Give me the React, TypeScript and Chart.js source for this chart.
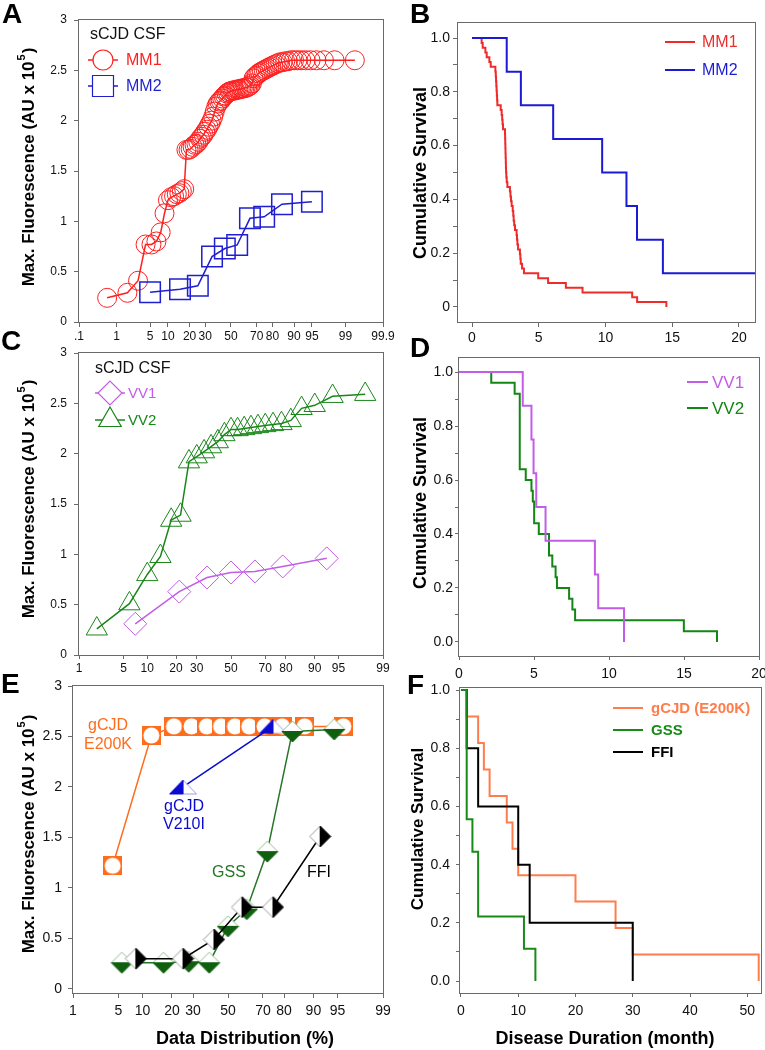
import React, { useEffect, useRef } from 'react';
import { Chart, Scale, registerables } from 'chart.js';

Chart.register(...registerables);
const FONT = 'Arial, "Liberation Sans", Helvetica, sans-serif';
Chart.defaults.font.family = FONT;

// ================= DATA =================
// Panel A – sCJD CSF (probability plot)
const MM1_PCT = [
  0.59, 1.76, 2.94, 4.12, 5.29, 6.47, 7.65, 8.82, 10.0, 11.18,
  12.35, 13.53, 14.71, 15.88, 17.06, 18.24, 19.41, 20.59, 21.76, 22.94,
  24.12, 25.29, 26.47, 27.65, 28.82, 30.0, 31.18, 32.35, 33.53, 34.71,
  35.88, 37.06, 38.24, 39.41, 40.59, 41.76, 42.94, 44.12, 45.29, 46.47,
  47.65, 48.82, 50.0, 51.18, 52.35, 53.53, 54.71, 55.88, 57.06, 58.24,
  59.41, 60.59, 61.76, 62.94, 64.12, 65.29, 66.47, 67.65, 68.82, 70.0,
  71.18, 72.35, 73.53, 74.71, 75.88, 77.06, 78.24, 79.41, 80.59, 81.76,
  82.94, 84.12, 85.29, 86.47, 87.65, 88.82, 90.0, 91.18, 92.35, 93.53,
  94.71, 95.88, 97.06, 98.24, 99.41,
];
const MM1_VAL = [
  0.24, 0.29, 0.41, 0.77, 0.77, 0.80, 0.89, 1.08, 1.21, 1.24,
  1.25, 1.27, 1.28, 1.30, 1.32, 1.71, 1.71, 1.72, 1.74, 1.76,
  1.77, 1.79, 1.82, 1.84, 1.86, 1.89, 1.91, 1.94, 1.97, 2.00,
  2.04, 2.09, 2.14, 2.17, 2.19, 2.20, 2.22, 2.24, 2.25, 2.27,
  2.28, 2.29, 2.29, 2.30, 2.30, 2.30, 2.31, 2.31, 2.31, 2.32,
  2.32, 2.32, 2.33, 2.33, 2.34, 2.35, 2.37, 2.42, 2.44, 2.45,
  2.47, 2.48, 2.49, 2.50, 2.51, 2.52, 2.53, 2.54, 2.55, 2.56,
  2.57, 2.58, 2.58, 2.59, 2.59, 2.60, 2.60, 2.60, 2.60, 2.60,
  2.60, 2.60, 2.60, 2.60, 2.60,
];
const MM2_PCT = [5, 15, 25, 35, 45, 55, 65, 75, 85, 95];
const MM2_VAL = [0.295, 0.325, 0.36, 0.65, 0.73, 0.765, 1.03, 1.045, 1.17, 1.195];

// Panel B – survival MM1 / MM2
const KM_MM1_T = [0, 0.72, 0.8, 1.0, 1.1, 1.3, 1.4, 1.75, 1.78, 1.8, 1.82, 1.84, 1.86, 1.88, 1.9, 2.15, 2.22, 2.26, 2.29, 2.32, 2.47, 2.48, 2.49, 2.5, 2.51, 2.52, 2.53, 2.54, 2.55, 2.57, 2.6, 2.65, 2.84, 2.88, 2.92, 2.97, 3.05, 3.09, 3.12, 3.16, 3.22, 3.34, 3.37, 3.4, 3.45, 3.59, 3.62, 3.65, 3.75, 3.89, 4.96, 5.7, 7.03, 8.28, 12.0, 12.37, 14.56];
const KM_MM1_S = [1, 0.982, 0.964, 0.946, 0.929, 0.911, 0.893, 0.875, 0.857, 0.839, 0.821, 0.804, 0.786, 0.768, 0.75, 0.732, 0.714, 0.696, 0.679, 0.661, 0.643, 0.625, 0.607, 0.589, 0.571, 0.554, 0.536, 0.518, 0.5, 0.482, 0.464, 0.446, 0.429, 0.411, 0.393, 0.375, 0.357, 0.339, 0.321, 0.304, 0.286, 0.268, 0.25, 0.232, 0.214, 0.196, 0.179, 0.161, 0.143, 0.125, 0.107, 0.089, 0.071, 0.054, 0.036, 0.018, 0];
const KM_MM2_T = [0, 2.6, 3.66, 6.08, 9.75, 11.57, 12.36, 14.3, 21.2];
const KM_MM2_S = [1, 0.875, 0.75, 0.625, 0.5, 0.375, 0.25, 0.125, 0.125];

// Panel C – VV1 / VV2
const VV1_PCT = [7.14, 21.43, 35.71, 50, 64.29, 78.57, 92.86];
const VV1_VAL = [0.31, 0.63, 0.77, 0.82, 0.83, 0.88, 0.96];
const VV2_PCT = [2, 6, 10, 14, 18, 22, 26, 30, 34, 38, 42, 46, 50, 54, 58, 62, 66, 70, 74, 78, 82, 86, 90, 94, 98];
const VV2_VAL = [0.26, 0.51, 0.80, 0.98, 1.34, 1.39, 1.92, 1.97, 2.02, 2.07, 2.12, 2.19, 2.24, 2.24, 2.25, 2.26, 2.27, 2.28, 2.29, 2.30, 2.33, 2.45, 2.48, 2.57, 2.59];

// Panel D – survival VV1 / VV2
const KM_VV1_T = [0, 4.25, 4.83, 4.97, 5.15, 5.77, 9.06, 9.28, 11.0];
const KM_VV1_S = [1, 0.875, 0.75, 0.625, 0.5, 0.375, 0.25, 0.125, 0];
const KM_VV2_T = [0, 2.15, 3.71, 4.05, 4.45, 4.83, 4.92, 5.01, 5.32, 6.0, 6.22, 6.44, 6.53, 7.34, 7.56, 7.74, 14.99, 17.2];
const KM_VV2_S = [1, 0.96, 0.92, 0.64, 0.6, 0.56, 0.52, 0.44, 0.4, 0.32, 0.28, 0.24, 0.2, 0.16, 0.12, 0.08, 0.04, 0];

// Panel E – genetic forms
const E200K_PCT = [4.17, 12.5, 20.83, 29.17, 37.5, 45.83, 54.17, 62.5, 70.83, 79.17, 87.5, 95.83];
const E200K_VAL = [1.22, 2.51, 2.6, 2.6, 2.6, 2.6, 2.6, 2.6, 2.6, 2.6, 2.6, 2.6];
const V210I_PCT = [25, 75];
const V210I_VAL = [2.0, 2.6];
const GSS_PCT = [5.56, 16.67, 27.78, 38.89, 50, 61.11, 72.22, 83.33, 94.44];
const GSS_VAL = [0.26, 0.26, 0.27, 0.26, 0.62, 0.79, 1.36, 2.55, 2.57];
const FFI_PCT = [8.33, 25, 41.67, 58.33, 75, 91.67];
const FFI_VAL = [0.30, 0.30, 0.49, 0.81, 0.81, 1.51];

// Panel F – survival genetic forms
const KM_E200K_T = [0, 1, 3, 4, 5, 8, 9, 10, 20, 27, 30, 52];
const KM_E200K_S = [1, 0.909, 0.818, 0.727, 0.636, 0.545, 0.455, 0.364, 0.273, 0.182, 0.091, 0];
const KM_GSS_T = [0, 1, 2, 3, 11, 13];
const KM_GSS_S = [1, 0.556, 0.444, 0.222, 0.111, 0];
const KM_FFI_T = [0, 1, 3, 10, 12, 30];
const KM_FFI_S = [1, 0.8, 0.6, 0.4, 0.2, 0];

// Ticks
const PROB_TICKS_A = [0.1, 1, 5, 10, 20, 30, 50, 70, 80, 90, 95, 99, 99.9];
const PROB_LABELS_A = ['.1', '1', '5', '10', '20', '30', '50', '70', '80', '90', '95', '99', '99.9'];
const PROB_TICKS_CE = [1, 5, 10, 20, 30, 50, 70, 80, 90, 95, 99];
const PROB_LABELS_CE = ['1', '5', '10', '20', '30', '50', '70', '80', '90', '95', '99'];
const FLUOR_TICKS = [0, 0.5, 1, 1.5, 2, 2.5, 3];
const FLUOR_LABELS = ['0', '0.5', '1', '1.5', '2', '2.5', '3'];
const SURV_TICKS = [0, 0.1, 0.2, 0.3, 0.4, 0.5, 0.6, 0.7, 0.8, 0.9, 1.0];
const SURV_LABELS_B = ['0', '', '0.2', '', '0.4', '', '0.6', '', '0.8', '', '1.0'];
const SURV_LABELS_DF = ['0.0', '', '0.2', '', '0.4', '', '0.6', '', '0.8', '', '1.0'];
const DUR_TICKS_BD = [0, 5, 10, 15, 20];
const DUR_TICKS_F = [0, 10, 20, 30, 40, 50];

// Colours
const GRAY = '#6a6a6a';
const RED_A = '#ff1f1f';
const BLUE_A = '#1f1fd0';
const RED_B = '#ee2b2b';
const BLUE_B = '#1b1bd6';
const PURPLE = '#c35ce6';
const GREEN_C = '#1a861a';
const GREEN_D = '#138613';
const E_ORANGE = '#ff6d1a';
const E_BLUE = '#0a0ad2';
const GSS_DARK = '#0f5f0f';
const GSS_LINE = '#257525';
const F_ORANGE = '#ff7d4d';
const F_GREEN = '#178a17';

// ================= PROBIT SCALE =================
function probit(p: number): number {
  const a = [-3.969683028665376e1, 2.209460984245205e2, -2.759285104469687e2, 1.38357751867269e2, -3.066479806614716e1, 2.506628277459239];
  const b = [-5.447609879822406e1, 1.615858368580409e2, -1.556989798598866e2, 6.680131188771972e1, -1.328068155288572e1];
  const c = [-7.784894002430293e-3, -3.223964580411365e-1, -2.400758277161838, -2.549671010862449, 4.374664141464968, 2.938163982698783];
  const d = [7.784695709041462e-3, 3.224671290700398e-1, 2.445134137142996, 3.754408661907416];
  const pl = 0.02425;
  if (p < pl) {
    const q = Math.sqrt(-2 * Math.log(p));
    return (((((c[0] * q + c[1]) * q + c[2]) * q + c[3]) * q + c[4]) * q + c[5]) / ((((d[0] * q + d[1]) * q + d[2]) * q + d[3]) * q + 1);
  }
  if (p <= 1 - pl) {
    const q = p - 0.5;
    const r = q * q;
    return ((((((a[0] * r + a[1]) * r + a[2]) * r + a[3]) * r + a[4]) * r + a[5]) * q) / (((((b[0] * r + b[1]) * r + b[2]) * r + b[3]) * r + b[4]) * r + 1);
  }
  const q = Math.sqrt(-2 * Math.log(1 - p));
  return -(((((c[0] * q + c[1]) * q + c[2]) * q + c[3]) * q + c[4]) * q + c[5]) / ((((d[0] * q + d[1]) * q + d[2]) * q + d[3]) * q + 1);
}

class ProbitScale extends Scale {
  static id = 'probit';
  static defaults = {};
  determineDataLimits() {
    const o: any = this.options;
    this.min = o.min;
    this.max = o.max;
  }
  buildTicks() {
    return [];
  }
  getLabelForValue(v: number) {
    return String(v);
  }
  getPixelForValue(v: number) {
    const z0 = probit(this.min / 100);
    const z1 = probit(this.max / 100);
    const p = Math.min(99.9999, Math.max(0.0001, v)) / 100;
    return this.getPixelForDecimal((probit(p) - z0) / (z1 - z0));
  }
  getPixelForTick(i: number) {
    return this.getPixelForValue((this.ticks[i] as any).value);
  }
  getValueForPixel(px: number) {
    return this.min + this.getDecimalForPixel(px) * (this.max - this.min);
  }
}
Chart.register(ProbitScale as any);

// ================= HELPERS =================
const zip = (xs: number[], ys: number[]) => xs.map((x, i) => ({ x, y: ys[i] }));

type Geo = { left: number; top: number; w: number; h: number; L: number; T: number; R: number; B: number };
const GA: Geo = { left: 0, top: 0, w: 400, h: 345, L: 79, T: 20, R: 383, B: 322 };
const GB: Geo = { left: 390, top: 0, w: 380, h: 345, L: 458, T: 23, R: 755, B: 322 };
const GC: Geo = { left: 0, top: 325, w: 400, h: 355, L: 79, T: 353, R: 383, B: 655 };
const GD: Geo = { left: 390, top: 325, w: 380, h: 365, L: 459, T: 358, R: 759, B: 656 };
const GE: Geo = { left: 0, top: 665, w: 400, h: 385, L: 73, T: 686, R: 383, B: 993 };
const GF: Geo = { left: 390, top: 665, w: 380, h: 385, L: 460, T: 688, R: 761, B: 993 };

function axis(size: number, tickLen: number, pad: number, extra: any) {
  return {
    grid: { display: true, drawOnChartArea: false, drawTicks: true, tickLength: tickLen, color: GRAY, lineWidth: 1 },
    border: { display: false },
    ...extra,
    ticks: { autoSkip: false, maxRotation: 0, minRotation: 0, padding: pad, color: '#111', font: { size, family: FONT }, ...(extra.ticks || {}) },
  };
}

const zeroPad = (s: any) => {
  s.paddingLeft = 0;
  s.paddingRight = 0;
  s.paddingTop = 0;
  s.paddingBottom = 0;
};

function options(g: Geo, x: any, y: any) {
  const L = g.L - g.left;
  const T = g.T - g.top;
  const R = g.R - g.left;
  const B = g.B - g.top;
  x.afterFit = (s: any) => {
    s.height = g.h - B;
    zeroPad(s);
  };
  y.afterFit = (s: any) => {
    s.width = L;
    zeroPad(s);
  };
  return {
    animation: false,
    responsive: false,
    maintainAspectRatio: false,
    devicePixelRatio: 1,
    events: [],
    layout: { padding: { left: 0, top: T, right: g.w - R, bottom: 0 } },
    plugins: { legend: { display: false }, tooltip: { enabled: false } },
    scales: { x, y },
  };
}

const framePlugin = {
  id: 'frame',
  beforeDatasetsDraw(chart: any) {
    const { ctx, chartArea: a } = chart;
    ctx.save();
    ctx.strokeStyle = GRAY;
    ctx.lineWidth = 1;
    const l = Math.round(a.left), t = Math.round(a.top), r = Math.round(a.right), b = Math.round(a.bottom);
    ctx.strokeRect(l - 0.5, t - 0.5, r - l + 1, b - t + 1);
    ctx.restore();
  },
};

function overlay(g: Geo, draw: (ctx: CanvasRenderingContext2D) => void) {
  return {
    id: 'overlay',
    afterDraw(chart: any) {
      const ctx = chart.ctx as CanvasRenderingContext2D;
      ctx.save();
      ctx.translate(-g.left, -g.top);
      draw(ctx);
      ctx.restore();
    },
  };
}

function text(ctx: CanvasRenderingContext2D, s: string, x: number, y: number, size: number, color = '#000', bold = false, align: CanvasTextAlign = 'left') {
  ctx.font = `${bold ? 'bold ' : ''}${size}px ${FONT}`;
  ctx.fillStyle = color;
  ctx.textAlign = align;
  ctx.textBaseline = 'middle';
  ctx.fillText(s, x, y);
}
function letter(ctx: CanvasRenderingContext2D, s: string, x: number, yBase: number) {
  ctx.font = `bold 28px ${FONT}`;
  ctx.fillStyle = '#000';
  ctx.textAlign = 'left';
  ctx.textBaseline = 'alphabetic';
  ctx.fillText(s, x, yBase);
}
function vTitle(ctx: CanvasRenderingContext2D, s: string, cx: number, cy: number, size: number) {
  ctx.save();
  ctx.translate(cx, cy);
  ctx.rotate(-Math.PI / 2);
  text(ctx, s, 0, 0, size, '#000', true, 'center');
  ctx.restore();
}
function vTitleSup(ctx: CanvasRenderingContext2D, main: string, sup: string, tail: string, cx: number, cy: number, size: number) {
  ctx.save();
  ctx.translate(cx, cy);
  ctx.rotate(-Math.PI / 2);
  const f = `bold ${size}px ${FONT}`;
  const fs = `bold ${Math.round(size * 0.65)}px ${FONT}`;
  ctx.font = f;
  const w1 = ctx.measureText(main).width;
  const w3 = ctx.measureText(tail).width;
  ctx.font = fs;
  const w2 = ctx.measureText(sup).width;
  let x = -(w1 + w2 + w3) / 2;
  ctx.textBaseline = 'middle';
  ctx.textAlign = 'left';
  ctx.fillStyle = '#000';
  ctx.font = f;
  ctx.fillText(main, x, 0);
  x += w1;
  ctx.font = fs;
  ctx.fillText(sup, x + 1, -size * 0.4);
  x += w2 + 2;
  ctx.font = f;
  ctx.fillText(tail, x, 0);
  ctx.restore();
}
function hline(ctx: CanvasRenderingContext2D, x1: number, x2: number, y: number, color: string, w: number) {
  ctx.beginPath();
  ctx.moveTo(x1, y);
  ctx.lineTo(x2, y);
  ctx.strokeStyle = color;
  ctx.lineWidth = w;
  ctx.stroke();
}
function marker(ctx: CanvasRenderingContext2D, kind: string, x: number, y: number, r: number, color: string) {
  ctx.beginPath();
  if (kind === 'circle') ctx.arc(x, y, r, 0, Math.PI * 2);
  else if (kind === 'rect') ctx.rect(x - r, y - r, 2 * r, 2 * r);
  else if (kind === 'diamond') {
    ctx.moveTo(x - r, y);
    ctx.lineTo(x, y - r);
    ctx.lineTo(x + r, y);
    ctx.lineTo(x, y + r);
    ctx.closePath();
  } else {
    ctx.moveTo(x, y - r);
    ctx.lineTo(x + 0.866 * r, y + r / 2);
    ctx.lineTo(x - 0.866 * r, y + r / 2);
    ctx.closePath();
  }
  ctx.fillStyle = '#fff';
  ctx.fill();
  ctx.strokeStyle = color;
  ctx.lineWidth = 1.2;
  ctx.stroke();
}

function mk(w: number, h: number, f: (g: CanvasRenderingContext2D) => void) {
  const c = document.createElement('canvas');
  c.width = w;
  c.height = h;
  f(c.getContext('2d') as CanvasRenderingContext2D);
  return c;
}
function poly(g: CanvasRenderingContext2D, pts: number[][], fill: string, stroke?: string) {
  g.beginPath();
  g.moveTo(pts[0][0], pts[0][1]);
  for (let i = 1; i < pts.length; i++) g.lineTo(pts[i][0], pts[i][1]);
  g.closePath();
  g.fillStyle = fill;
  g.fill();
  if (stroke) {
    g.strokeStyle = stroke;
    g.lineWidth = 1;
    g.stroke();
  }
}
function e200kMarker() {
  return mk(19, 19, (g) => {
    g.fillStyle = E_ORANGE;
    g.fillRect(0, 0, 19, 19);
    g.fillStyle = '#fff';
    g.beginPath();
    g.arc(9.5, 9.5, 8, 0, Math.PI * 2);
    g.fill();
  });
}
function halfDiamond(dark: string, edge: string, vertical: boolean) {
  return mk(23, 23, (g) => {
    const c = 11.5, r = 10.5;
    const L = [c - r, c], T = [c, c - r], R = [c + r, c], B = [c, c + r];
    if (!vertical) {
      poly(g, [L, T, R], '#fff', edge);
      poly(g, [L, B, R], dark, dark);
    } else {
      poly(g, [T, L, B], '#fff', edge);
      poly(g, [T, R, B], dark, dark);
    }
  });
}
function v210Marker() {
  return mk(29, 16, (g) => {
    const apex = [14.5, 1], bl = [1, 15], br = [28, 15], mid = [14.5, 15];
    poly(g, [apex, mid, br], '#fff', '#9a9ae8');
    poly(g, [apex, bl, mid], E_BLUE, E_BLUE);
  });
}

function probLine(data: any, color: string, style: any, radius: number, order: number, extra: any = {}) {
  return {
    data,
    borderColor: color,
    borderWidth: 1.5,
    tension: 0,
    pointStyle: style,
    pointRadius: radius,
    pointBorderColor: color,
    pointBackgroundColor: 'rgba(0,0,0,0)',
    pointBorderWidth: 1,
    order,
    ...extra,
  };
}
function kmLine(T: number[], S: number[], color: string, order: number) {
  return { data: zip(T, S), borderColor: color, borderWidth: 2, stepped: 'before', pointRadius: 0, tension: 0, order, fill: false };
}

const fluorY = (size: number, tl: number, pad: number, min: number) =>
  axis(size, tl, pad, {
    type: 'linear', min, max: 3,
    afterBuildTicks: (s: any) => { s.ticks = FLUOR_TICKS.map((v) => ({ value: v })); },
    ticks: { callback: (_v: any, i: number) => FLUOR_LABELS[i] },
  });
const probX = (size: number, tl: number, pad: number, min: number, max: number, ticks: number[], labels: string[]) =>
  axis(size, tl, pad, {
    type: 'probit', min, max,
    afterBuildTicks: (s: any) => { s.ticks = ticks.map((v) => ({ value: v })); },
    ticks: { callback: (_v: any, i: number) => labels[i] },
  });
const survY = (size: number, tl: number, pad: number, min: number, max: number, labels: string[]) =>
  axis(size, tl, pad, {
    type: 'linear', min, max,
    afterBuildTicks: (s: any) => { s.ticks = SURV_TICKS.map((v) => ({ value: v })); },
    ticks: { callback: (_v: any, i: number) => labels[i] },
  });
const durX = (size: number, tl: number, pad: number, min: number, max: number, ticks: number[]) =>
  axis(size, tl, pad, {
    type: 'linear', min, max,
    afterBuildTicks: (s: any) => { s.ticks = ticks.map((v) => ({ value: v })); },
    ticks: { callback: (v: any) => String(v) },
  });

// ================= PANELS =================
const panelA = () => ({
  type: 'line',
  data: {
    datasets: [
      probLine(zip(MM2_PCT, MM2_VAL), BLUE_A, 'rect', 14.5, 1, { pointBorderWidth: 1.5 }),
      probLine(zip(MM1_PCT, MM1_VAL), RED_A, 'circle', 9.5, 2),
    ],
  },
  options: options(GA, probX(12, 5, 2, 0.1, 99.9, PROB_TICKS_A, PROB_LABELS_A), fluorY(12, 5, 7, 0)),
  plugins: [
    framePlugin,
    overlay(GA, (ctx) => {
      letter(ctx, 'A', 2, 23);
      vTitleSup(ctx, 'Max. Fluorescence (AU x 10', '5', ')', 29, 168, 17);
      text(ctx, 'sCJD CSF', 90, 35, 16, '#111');
      hline(ctx, 88, 118, 60, RED_A, 1.5);
      marker(ctx, 'circle', 103, 60, 10, RED_A);
      text(ctx, 'MM1', 126, 61, 16, RED_A);
      hline(ctx, 88, 118, 86, BLUE_A, 1.5);
      marker(ctx, 'rect', 103, 86, 10.5, BLUE_A);
      text(ctx, 'MM2', 126, 87, 16, BLUE_A);
    }),
  ],
});

const panelB = () => ({
  type: 'line',
  data: { datasets: [kmLine(KM_MM2_T, KM_MM2_S, BLUE_B, 1), kmLine(KM_MM1_T, KM_MM1_S, RED_B, 2)] },
  options: options(GB, durX(14, 5, 3, -1.05, 21.2, DUR_TICKS_BD), survY(14, 5, 3, -0.056, 1.056, SURV_LABELS_B)),
  plugins: [
    framePlugin,
    overlay(GB, (ctx) => {
      letter(ctx, 'B', 410, 23);
      vTitle(ctx, 'Cumulative Survival', 421, 173, 18);
      hline(ctx, 665, 695, 42, RED_B, 2);
      text(ctx, 'MM1', 702, 43, 16, RED_B);
      hline(ctx, 665, 695, 70, BLUE_B, 2);
      text(ctx, 'MM2', 702, 71, 16, BLUE_B);
    }),
  ],
});

const panelC = () => ({
  type: 'line',
  data: {
    datasets: [
      probLine(zip(VV1_PCT, VV1_VAL), PURPLE, 'rectRot', 11.5, 1),
      probLine(zip(VV2_PCT, VV2_VAL), GREEN_C, 'triangle', 12.3, 2),
    ],
  },
  options: options(GC, probX(12, 4, 2, 1, 99, PROB_TICKS_CE, PROB_LABELS_CE), fluorY(12, 5, 7, 0)),
  plugins: [
    framePlugin,
    overlay(GC, (ctx) => {
      letter(ctx, 'C', 1, 350);
      vTitleSup(ctx, 'Max. Fluorescence (AU x 10', '5', ')', 29, 500, 17);
      text(ctx, 'sCJD CSF', 95, 369, 16, '#111');
      hline(ctx, 95, 125, 393, PURPLE, 1.5);
      marker(ctx, 'diamond', 110, 393, 12, PURPLE);
      text(ctx, 'VV1', 128, 394, 15, PURPLE);
      hline(ctx, 95, 125, 420, GREEN_C, 1.5);
      marker(ctx, 'triangle', 110, 420, 13, GREEN_C);
      text(ctx, 'VV2', 128, 421, 15, GREEN_C);
    }),
  ],
});

const panelD = () => ({
  type: 'line',
  data: { datasets: [kmLine(KM_VV1_T, KM_VV1_S, PURPLE, 1), kmLine(KM_VV2_T, KM_VV2_S, GREEN_D, 2)] },
  options: options(GD, durX(14, 4, 6, 0, 20, DUR_TICKS_BD), survY(14, 4, 2, -0.052, 1.052, SURV_LABELS_DF)),
  plugins: [
    framePlugin,
    overlay(GD, (ctx) => {
      letter(ctx, 'D', 410, 357);
      vTitle(ctx, 'Cumulative Survival', 421, 503, 18);
      hline(ctx, 687, 708, 382, PURPLE, 2);
      text(ctx, 'VV1', 712, 383, 17, PURPLE);
      hline(ctx, 687, 708, 408, GREEN_D, 2);
      text(ctx, 'VV2', 712, 409, 17, GREEN_D);
    }),
  ],
});

const panelE = () => ({
  type: 'line',
  data: {
    datasets: [
      probLine(zip(E200K_PCT, E200K_VAL), E_ORANGE, e200kMarker(), 9, 4),
      probLine(zip(V210I_PCT, V210I_VAL), E_BLUE, v210Marker(), 9, 3),
      probLine(zip(GSS_PCT, GSS_VAL), GSS_LINE, halfDiamond(GSS_DARK, '#8cbf8c', false), 10, 2),
      probLine(zip(FFI_PCT, FFI_VAL), '#000', halfDiamond('#000', '#999', true), 10, 1),
    ],
  },
  options: options(GE, probX(14, 5, 5, 1, 99, PROB_TICKS_CE, PROB_LABELS_CE), fluorY(14, 5, 6, -0.04)),
  plugins: [
    framePlugin,
    overlay(GE, (ctx) => {
      letter(ctx, 'E', 1, 693);
      vTitleSup(ctx, 'Max. Fluorescence (AU x 10', '5', ')', 29, 835, 17);
      text(ctx, 'gCJD', 108, 726, 16, E_ORANGE, false, 'center');
      text(ctx, 'E200K', 108, 745, 16, E_ORANGE, false, 'center');
      text(ctx, 'gCJD', 184, 807, 16, E_BLUE, false, 'center');
      text(ctx, 'V210I', 184, 825, 16, E_BLUE, false, 'center');
      text(ctx, 'GSS', 229, 873, 16, GSS_LINE, false, 'center');
      text(ctx, 'FFI', 319, 873, 16, '#000', false, 'center');
      text(ctx, 'Data Distribution (%)', 245, 1039, 18, '#000', true, 'center');
    }),
  ],
});

const panelF = () => ({
  type: 'line',
  data: {
    datasets: [
      kmLine(KM_GSS_T, KM_GSS_S, F_GREEN, 1),
      kmLine(KM_FFI_T, KM_FFI_S, '#000', 2),
      kmLine(KM_E200K_T, KM_E200K_S, F_ORANGE, 3),
    ],
  },
  options: options(GF, durX(14, 4, 6, -0.17, 52.4, DUR_TICKS_F), survY(14, 4, 6, -0.041, 1.007, SURV_LABELS_DF)),
  plugins: [
    framePlugin,
    overlay(GF, (ctx) => {
      letter(ctx, 'F', 407, 694);
      vTitle(ctx, 'Cumulative Survival', 418, 829, 17);
      hline(ctx, 613, 643, 708, F_ORANGE, 2);
      text(ctx, 'gCJD (E200K)', 651, 709, 15, F_ORANGE, true);
      hline(ctx, 613, 643, 730, F_GREEN, 2);
      text(ctx, 'GSS', 651, 731, 15, F_GREEN, true);
      hline(ctx, 613, 643, 752, '#000', 2);
      text(ctx, 'FFI', 651, 753, 15, '#000', true);
      text(ctx, 'Disease Duration (month)', 605, 1039, 18, '#000', true, 'center');
    }),
  ],
});

function ChartBox({ g, make }: { g: Geo; make: () => any }) {
  const ref = useRef<HTMLCanvasElement>(null);
  useEffect(() => {
    const chart = new Chart(ref.current as HTMLCanvasElement, make());
    return () => chart.destroy();
  }, []);
  return (
    <canvas
      ref={ref}
      width={g.w}
      height={g.h}
      style={{ position: 'absolute', left: g.left, top: g.top, width: g.w, height: g.h }}
    />
  );
}

export default function App() {
  return (
    <div style={{ position: 'absolute', left: 0, top: 0, width: 765, height: 1050, overflow: 'hidden', background: '#fff' }}>
      <ChartBox g={GA} make={panelA} />
      <ChartBox g={GB} make={panelB} />
      <ChartBox g={GC} make={panelC} />
      <ChartBox g={GD} make={panelD} />
      <ChartBox g={GE} make={panelE} />
      <ChartBox g={GF} make={panelF} />
    </div>
  );
}
